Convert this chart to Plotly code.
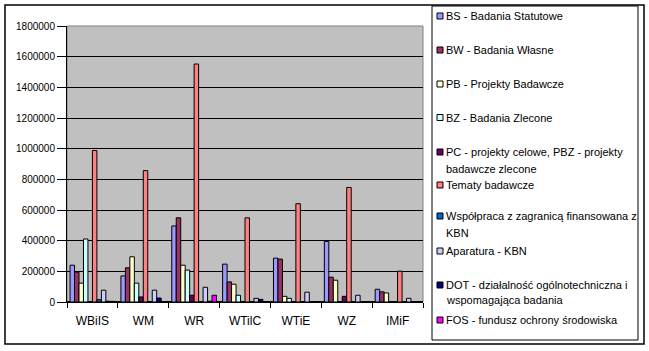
import plotly.graph_objects as go

categories = ["WBiIS", "WM", "WR", "WTilC", "WTiE", "WZ", "IMiF"]

series_names = [
    "BS - Badania Statutowe",
    "BW - Badania Własne",
    "PB - Projekty Badawcze",
    "BZ - Badania Zlecone",
    "PC - projekty celowe, PBZ - projekty badawcze zlecone",
    "Tematy badawcze",
    "Współpraca z zagranicą finansowana z KBN",
    "Aparatura - KBN",
    "DOT - działalność ogólnotechniczna i wspomagająca badania",
    "FOS - fundusz ochrony środowiska",
]

BS = [240000, 170000, 496000, 247000, 286000, 395000, 83000]
BW = [195000, 223000, 549000, 131000, 280000, 162000, 66000]
PB = [123000, 295000, 240000, 116000, 37000, 142000, 59000]
BZ = [411000, 123000, 208000, 44000, 24000, 0, 0]
PC = [2000, 33000, 44000, 0, 0, 37000, 0]
TEMATY = [988000, 857000, 1552000, 549000, 641000, 747000, 201000]
WSP = [15000, 3000, 0, 3000, 0, 0, 0]
APARATURA = [77000, 77000, 96000, 24000, 64000, 44000, 24000]
DOT = [5000, 26000, 5000, 17000, 0, 0, 0]
FOS = [4000, 0, 44000, 0, 0, 0, 0]

series_values = [BS, BW, PB, BZ, PC, TEMATY, WSP, APARATURA, DOT, FOS]

colors = ["#9999FF", "#993366", "#FFFFCC", "#CCFFFF", "#660066",
          "#FF8080", "#0066CC", "#CCCCFF", "#000080", "#FF00FF"]

# legend text lines (as shown in the chart legend)
legend_lines = [
    ["BS - Badania Statutowe"],
    ["BW - Badania Własne"],
    ["PB - Projekty Badawcze"],
    ["BZ - Badania Zlecone"],
    ["PC - projekty celowe, PBZ - projekty", "badawcze zlecone"],
    ["Tematy badawcze"],
    ["Współpraca z zagranicą finansowana z", "KBN"],
    ["Aparatura - KBN"],
    ["DOT - działalność ogólnotechniczna i", "wspomagająca badania"],
    ["FOS - fundusz ochrony środowiska"],
]
legend_line_y = [[16], [50], [84], [117.5], [152, 169], [185], [216, 233], [251], [285, 300], [320]]

W, H = 649, 351
PL, PR, PT, PB_ = 67, 423, 26, 302
FONT = "Liberation Sans, Arial, sans-serif"


def px(x):
    return (x - PL) / (PR - PL)


def py(y):
    return (PB_ - y) / (PB_ - PT)


fig = go.Figure()
for name, vals, col in zip(series_names, series_values, colors):
    fig.add_trace(go.Bar(
        x=categories, y=vals, name=name,
        marker=dict(color=col, line=dict(color="black", width=1)),
        showlegend=False,
    ))

shapes = []
annotations = []

# outer chart border
shapes.append(dict(type="rect", xref="paper", yref="paper",
                   x0=px(5), x1=px(644), y0=py(5), y1=py(344),
                   line=dict(color="black", width=1.5), fillcolor="rgba(0,0,0,0)", layer="below"))
# legend box
shapes.append(dict(type="rect", xref="paper", yref="paper",
                   x0=px(432), x1=px(638), y0=py(6), y1=py(340),
                   line=dict(color="black", width=1), fillcolor="white", layer="below"))
# plot area border
shapes.append(dict(type="rect", xref="paper", yref="paper",
                   x0=0, x1=1, y0=0, y1=1,
                   line=dict(color="#808080", width=1), fillcolor="rgba(0,0,0,0)", layer="below"))

for lines, ys, col in zip(legend_lines, legend_line_y, colors):
    y0 = ys[0]
    shapes.append(dict(type="rect", xref="paper", yref="paper",
                       x0=px(437), x1=px(443), y0=py(y0 - 3), y1=py(y0 + 3),
                       line=dict(color="black", width=1), fillcolor=col))
    for t, yy in zip(lines, ys):
        annotations.append(dict(text=t, xref="paper", yref="paper",
                                x=px(444), y=py(yy), xanchor="left", yanchor="middle",
                                showarrow=False, font=dict(family=FONT, size=11, color="black")))

fig.update_layout(
    width=W, height=H,
    margin=dict(l=PL, r=W - PR, t=PT, b=H - PB_, pad=0),
    paper_bgcolor="white",
    plot_bgcolor="#C0C0C0",
    barmode="group",
    bargap=0.12,
    bargroupgap=0,
    font=dict(family=FONT, size=11, color="black"),
    shapes=shapes,
    annotations=annotations,
    xaxis=dict(
        type="category", tickson="boundaries", ticks="outside", ticklen=5,
        tickcolor="black", showline=True, linecolor="black", linewidth=1,
        showgrid=False, tickfont=dict(family=FONT, size=12, color="black"),
        ticklabelstandoff=8,
    ),
    yaxis=dict(
        range=[0, 1800000], dtick=200000, tickformat="d",
        ticks="outside", ticklen=9, tickcolor="black",
        showline=True, linecolor="black", linewidth=1,
        showgrid=True, gridcolor="black", gridwidth=1,
        zeroline=True, zerolinecolor="black",
        tickfont=dict(family=FONT, size=10, color="black"),
    ),
)

fig.write_html("out.html")
